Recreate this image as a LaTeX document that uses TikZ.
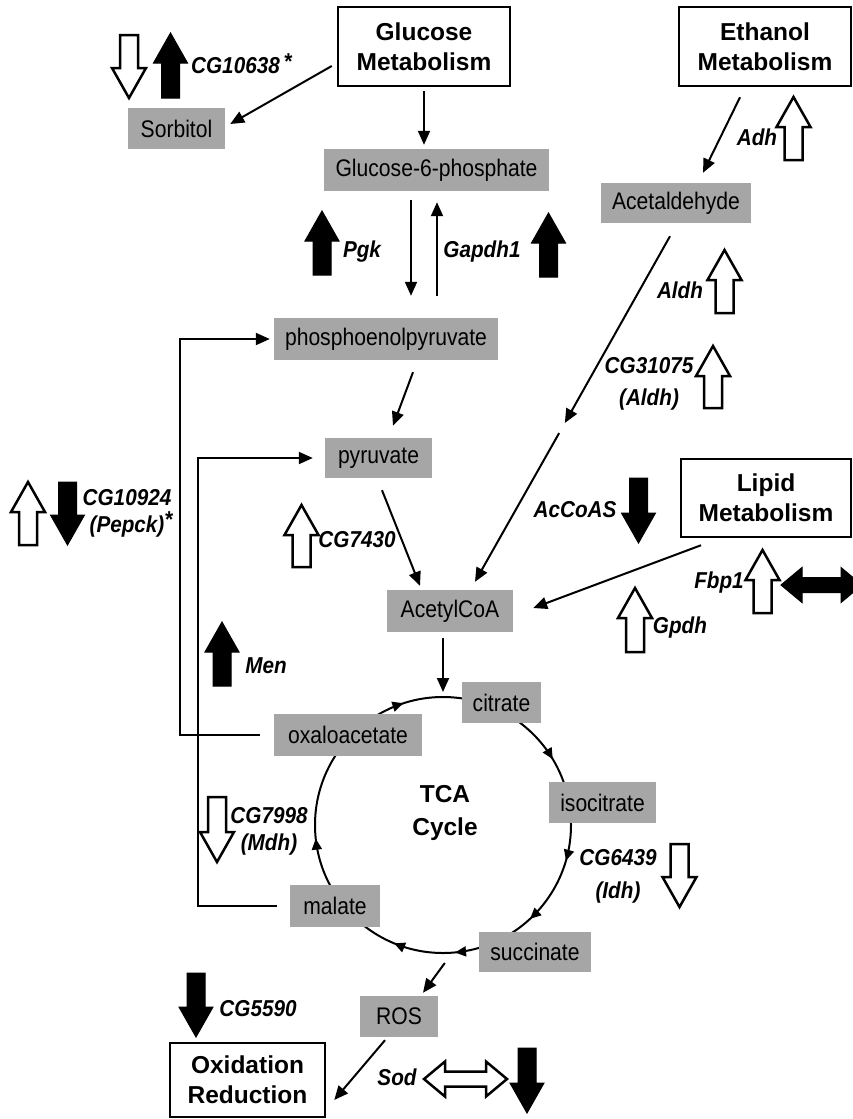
\documentclass[tikz,border=0pt]{standalone}
\usepackage{fontspec}
\setmainfont{Liberation Sans}
\newfontfamily\grayf{Liberation Sans}[FakeStretch=0.88]
\newfontfamily\genef{Liberation Sans}[FakeStretch=0.9]
\usetikzlibrary{arrows.meta,calc,decorations.markings}
\definecolor{boxgray}{RGB}{166,166,166}
% block arrows: style, x centre, y tail, y tip
\newcommand\blkup[4]{\draw[#1] ({#2-9},#3) -- ({#2-9},{#4+30}) -- ({#2-17},{#4+30}) -- (#2,#4) -- ({#2+17},{#4+30}) -- ({#2+9},{#4+30}) -- ({#2+9},#3) -- cycle;}
\newcommand\blkdown[4]{\draw[#1] ({#2-9},#3) -- ({#2-9},{#4-30}) -- ({#2-17},{#4-30}) -- (#2,#4) -- ({#2+17},{#4-30}) -- ({#2+9},{#4-30}) -- ({#2+9},#3) -- cycle;}
% double arrow: style, x left tip, x right tip, y
\newcommand\blkdbl[4]{\draw[#1] (#2,#4) -- ({#2+21},{#4-17.5}) -- ({#2+21},{#4-7.5}) -- ({#3-21},{#4-7.5}) -- ({#3-21},{#4-17.5}) -- (#3,#4) -- ({#3-21},{#4+17.5}) -- ({#3-21},{#4+7.5}) -- ({#2+21},{#4+7.5}) -- ({#2+21},{#4+17.5}) -- cycle;}
\tikzset{
 gbox/.style={fill=boxgray, inner sep=0pt, font=\grayf\fontsize{24}{28}\selectfont, text=black},
 mbox/.style={draw, line width=2.5pt, fill=white, align=center, inner sep=0pt, font=\bfseries\fontsize{24.5}{30}\selectfont},
 gene/.style={inner sep=0pt, font=\genef\bfseries\itshape\fontsize{23}{28}\selectfont, align=center},
 arr/.style={line width=2pt, -{Triangle[length=14pt,width=12pt]}},
 wblk/.style={draw=black, fill=white, line width=2.5pt, line join=miter},
 bblk/.style={draw=black, fill=black, line width=1pt, line join=miter},
 cyc/.style={line width=2pt, postaction={decorate}, decoration={markings,
   mark=at position 0.045 with {\arrow{Triangle[length=11pt,width=10pt]}},
   mark=at position 0.131 with {\arrow{Triangle[length=11pt,width=10pt]}},
   mark=at position 0.235 with {\arrow{Triangle[length=11pt,width=10pt]}},
   mark=at position 0.3125 with {\arrow{Triangle[length=11pt,width=10pt]}},
   mark=at position 0.483 with {\arrow{Triangle[length=11pt,width=10pt]}},
   mark=at position 0.70 with {\arrow{Triangle[length=11pt,width=10pt]}},
   mark=at position 0.914 with {\arrow{Triangle[length=11pt,width=10pt]}}}},
}
\begin{document}
\begin{tikzpicture}[x=1pt,y=-1pt]
\useasboundingbox (0,0) rectangle (853,1119);
% TCA cycle ring
\coordinate (tcac) at (443,825);
\draw[cyc] (tcac) ++(128,0) arc[start angle=0,end angle=360,radius=128];
\node[font=\bfseries\fontsize{24.5}{33}\selectfont, align=center, inner sep=0pt] (tca) at (445,813) {TCA\\Cycle};

% framed process boxes
\node[mbox, minimum width=172, minimum height=79] (glu) at (424,46.5) {Glucose\\Metabolism};
\node[mbox, minimum width=172, minimum height=79] (eth) at (765,46.5) {Ethanol\\Metabolism};
\node[mbox, minimum width=170, minimum height=78] (lip) at (766,498) {Lipid\\Metabolism};
\node[mbox, minimum width=155, minimum height=74] (oxid) at (247.5,1080) {Oxidation\\Reduction};

% metabolite boxes
\node[gbox, minimum width=97, minimum height=41] (sorb) at (176.5,128.5) {Sorbitol};
\node[gbox, minimum width=225, minimum height=42] (g6p) at (436.5,170) {Glucose-6-phosphate};
\node[gbox, minimum width=150, minimum height=40] (acet) at (676,203) {Acetaldehyde};
\node[gbox, minimum width=224, minimum height=42] (pep) at (386,339) {phosphoenolpyruvate};
\node[gbox, minimum width=107, minimum height=40] (pyr) at (378.5,458) {pyruvate};
\node[gbox, minimum width=126, minimum height=42] (acoa) at (450,611) {AcetylCoA};
\node[gbox, minimum width=79, minimum height=41] (cit) at (501.5,702.5) {citrate};
\node[gbox, minimum width=148, minimum height=42] (oxa) at (348,735) {oxaloacetate};
\node[gbox, minimum width=107, minimum height=41] (iso) at (602.5,802.5) {isocitrate};
\node[gbox, minimum width=90, minimum height=42] (mal) at (335,906) {malate};
\node[gbox, minimum width=112, minimum height=40] (suc) at (535,952) {succinate};
\node[gbox, minimum width=78, minimum height=41] (ros) at (399,1016.5) {ROS};

% connectors
\coordinate (mid) at (562,428);
\draw[arr] ($(glu.west)+(-5,19.5)$) -- ($(sorb.east)+(5,-4.5)$);
\draw[arr] ($(glu.south)+(0,4)$) -- ($(glu.south |- g6p.north)+(0,-4)$);
\draw[arr] ($(g6p.south)+(-25.5,9)$) -- ($(pep.north)+(25,-22)$);
\draw[arr] ($(pep.north)+(51,-22)$) -- ($(g6p.south)+(0.5,11)$);
\draw[arr] ($(eth.south)+(-25,10)$) -- ($(acet.north)+(27,-10)$);
\draw[arr, shorten >=5.8pt] ($(acet.south)+(-6,13)$) -- (mid);
\draw[arr, shorten <=5.8pt] (mid) -- ($(acoa.north)+(25,-8)$);
\draw[arr] ($(lip.south)+(-65,7)$) -- ($(acoa.east)+(20,-3)$);
\draw[arr] ($(pep.south)+(27,12)$) -- ($(pyr.north)+(14.5,-12)$);
\draw[arr] ($(pyr.south)+(3.5,12)$) -- ($(acoa.north)+(-30,-4)$);
\draw[arr] ($(acoa.south)+(-7,6)$) -- ($(tcac)+(0,-133)$);
\draw[arr] ($(oxa.west)+(-14,0)$) -- ++(-80,0) |- ($(pep.west)+(-4,0)$);
\draw[arr] ($(mal.west)+(-13,0)$) -- ++(-79,0) |- ($(pyr.west)+(-12,0)$);
\draw[arr] ($(suc.west)+(-34,11)$) -- ($(ros.north)+(24,-3)$);
\draw[arr] ($(ros.south)+(-14,3)$) -- ($(oxid.east)+(8,20)$);

% gene labels
\node[gene] (g10638) at (235.5,66) {CG10638\rlap{\,\smash{\raisebox{4pt}{*}}}};
\node[gene] (pgk) at (362,252) {Pgk};
\node[gene] (gapdh) at (482,252) {Gapdh1};
\node[gene] (adh) at (757,137) {Adh};
\node[gene] (aldh) at (680,290) {Aldh};
\node[gene, font=\genef\bfseries\itshape\fontsize{23}{32}\selectfont] (g31075) at (649,384) {CG31075\\(Aldh)};
\node[gene, font=\genef\bfseries\itshape\fontsize{23}{27}\selectfont] (pepck) at (127,513.5) {CG10924\\(Pepck)\rlap{\smash{\raisebox{5pt}{*}}}};
\node[gene] (g7430) at (357,540) {CG7430};
\node[gene] (accoas) at (575,510) {AcCoAS};
\node[gene] (fbp) at (719,583) {Fbp1};
\node[gene] (gpdh) at (680,628) {Gpdh};
\node[gene] (men) at (266,666) {Men};
\node[gene, font=\genef\bfseries\itshape\fontsize{23}{27}\selectfont] (mdh) at (269,831.5) {CG7998\\(Mdh)};
\node[gene, font=\genef\bfseries\itshape\fontsize{23}{33}\selectfont] (idh) at (618,876.5) {CG6439\\(Idh)};
\node[gene] (g5590) at (258,1009) {CG5590};
\node[gene] (sod) at (397,1077) {Sod};

% expression arrows
\blkdown{wblk}{129}{35}{98}
\blkup{bblk}{170.5}{98}{33}
\blkup{bblk}{322}{275}{211}
\blkup{bblk}{548.5}{277}{213}
\blkup{wblk}{793.5}{160}{97}
\blkup{wblk}{724.5}{313}{250}
\blkup{wblk}{713}{408}{346}
\blkdown{bblk}{638.5}{478}{543}
\blkup{wblk}{28}{545}{482}
\blkdown{bblk}{67.5}{482}{545}
\blkup{wblk}{301.5}{567}{505}
\blkup{wblk}{762.5}{613}{550}
\blkup{wblk}{635}{652}{588}
\blkup{bblk}{222}{686}{622}
\blkdown{wblk}{217}{797}{862}
\blkdown{wblk}{679.5}{844}{907}
\blkdown{bblk}{196}{973}{1037}
\blkdown{bblk}{527}{1048}{1113}
\blkdbl{wblk}{424}{507}{1079}
\begin{scope}
\clip (0,0) rectangle (853,1119);
\blkdbl{bblk}{781}{862}{585}
\end{scope}
\end{tikzpicture}
\end{document}
